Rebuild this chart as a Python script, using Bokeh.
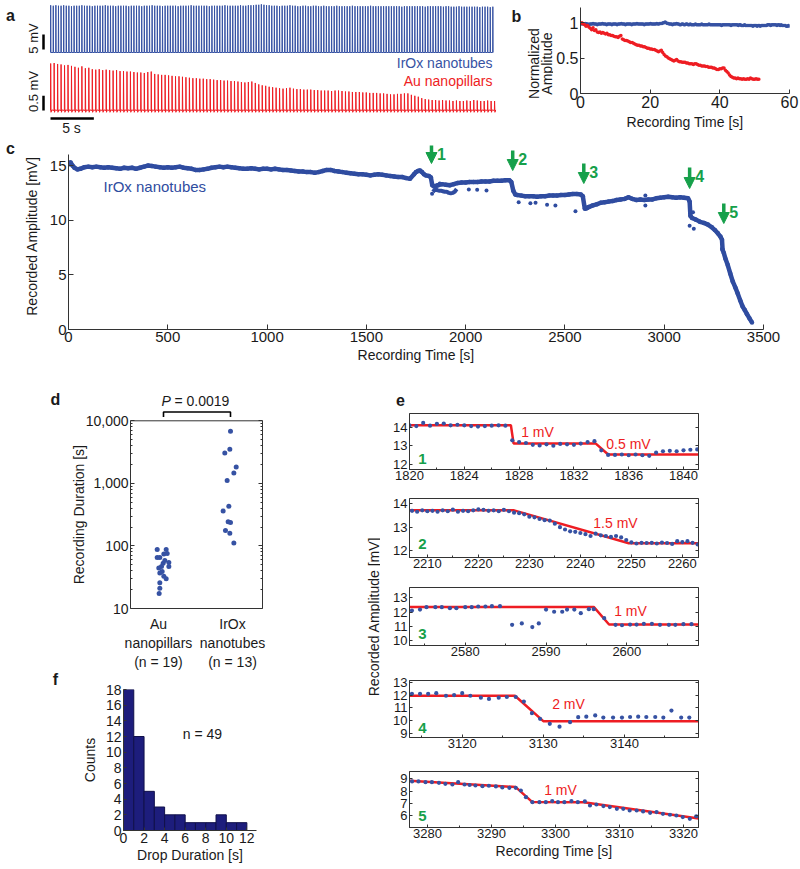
import math
from bokeh.plotting import figure
from bokeh.layouts import row, column
from bokeh.models import (Range1d, LinearAxis, LogAxis, FixedTicker, Label,
                          Arrow, NormalHead, Span)
from bokeh.embed import file_html
from bokeh.resources import INLINE

FONT = "Liberation Sans"
BLUE = "#3652a3"
DBLUE = "#2f4ca0"
RED = "#ee1d23"
GREEN = "#16a04a"
NAVY = "#1d1d7c"
AXC = "#333333"
TXT = "#1a1a1a"

# ======================= DATA =======================
# panel a / b : per-beat normalized spike amplitudes
beat_interval_irox_s = 0.3
beat_interval_au_s = 0.4
irox_norm_amp = [
    0.99, 0.98, 0.99, 0.98, 0.98, 0.99, 0.98, 0.98, 0.97, 0.98,
    0.98, 0.98, 0.99, 0.98, 0.98, 0.98, 0.97, 0.98, 0.98, 0.98,
    0.98, 0.99, 0.98, 0.98, 0.98, 0.97, 0.98, 0.98, 0.98, 0.98,
    0.97, 0.98, 0.98, 0.98, 0.98, 0.97, 0.98, 0.98, 0.98, 0.99,
    0.98, 0.98, 0.98, 0.97, 0.98, 0.98, 0.98, 0.98, 0.98, 0.97,
    0.98, 0.98, 0.98, 0.98, 0.99, 0.98, 0.98, 0.98, 0.98, 0.98,
    0.98, 0.97, 0.98, 0.98, 0.98, 0.98, 0.98, 0.99, 0.98, 0.98,
    0.98, 0.98, 0.98, 0.99, 0.98, 0.98, 0.99, 0.99, 0.99, 1.00,
    1.00, 1.01, 1.00, 0.99, 0.99, 0.98, 0.98, 0.98, 0.97, 0.98,
    0.98, 0.98, 0.99, 0.98, 0.98, 0.97, 0.97, 0.98, 0.98, 0.97,
    0.97, 0.98, 0.98, 0.97, 0.97, 0.98, 0.97, 0.97, 0.97, 0.97,
    0.98, 0.97, 0.97, 0.97, 0.97, 0.97, 0.98, 0.97, 0.97, 0.97,
    0.97, 0.97, 0.97, 0.98, 0.97, 0.97, 0.97, 0.97, 0.97, 0.97,
    0.97, 0.97, 0.97, 0.97, 0.97, 0.96, 0.97, 0.97, 0.97, 0.97,
    0.97, 0.97, 0.97, 0.97, 0.96, 0.97, 0.97, 0.97, 0.97, 0.97,
    0.97, 0.96, 0.97, 0.97, 0.96, 0.96, 0.96, 0.97, 0.96, 0.96,
    0.96, 0.96, 0.96, 0.96, 0.96, 0.95, 0.96, 0.96, 0.96, 0.95,
    0.96, 0.96, 0.95, 0.96, 0.96, 0.96, 0.96, 0.96, 0.96, 0.97,
    0.97, 0.97, 0.96, 0.97, 0.97, 0.97, 0.97, 0.97, 0.96, 0.97,
    0.97, 0.96, 0.97, 0.96, 0.96, 0.96, 0.96, 0.95, 0.95, 0.96,
    0.95]
au_norm_amp = [
    0.99, 1.00, 0.98, 0.97, 0.95, 0.96, 0.94, 0.92, 0.90, 0.93,
    0.89, 0.90, 0.87, 0.86, 0.87, 0.85, 0.86, 0.85, 0.84, 0.85,
    0.83, 0.83, 0.82, 0.82, 0.81, 0.80, 0.80, 0.79, 0.81, 0.82,
    0.77, 0.76, 0.75, 0.75, 0.74, 0.73, 0.72, 0.72, 0.71, 0.70,
    0.69, 0.68, 0.68, 0.67, 0.67, 0.66, 0.66, 0.65, 0.64, 0.64,
    0.63, 0.63, 0.62, 0.62, 0.61, 0.60, 0.59, 0.60, 0.61, 0.58,
    0.55, 0.53, 0.52, 0.50, 0.49, 0.48, 0.47, 0.46, 0.47, 0.48,
    0.46, 0.45, 0.45, 0.44, 0.44, 0.44, 0.43, 0.43, 0.42, 0.42,
    0.42, 0.41, 0.42, 0.42, 0.41, 0.40, 0.40, 0.39, 0.39, 0.39,
    0.38, 0.38, 0.37, 0.37, 0.37, 0.36, 0.36, 0.35, 0.34, 0.34,
    0.35, 0.35, 0.36, 0.36, 0.33, 0.31, 0.29, 0.26, 0.24, 0.23,
    0.22, 0.22, 0.21, 0.22, 0.21, 0.21, 0.20, 0.21, 0.20, 0.20,
    0.21, 0.20, 0.22, 0.21, 0.20, 0.20, 0.21, 0.20, 0.20]
irox_peak_mV = 16.0
au_peak_mV = 1.6
trace_window_s = 51.2
scalebar_irox_mV = 5
scalebar_au_mV = 0.5
scalebar_time_s = 5

# panel c : long-term recorded amplitude (IrOx nanotubes)
c_t = [0, 10, 20, 30, 45, 60, 80, 100, 120, 140, 160, 180, 200, 220, 240, 260, 280, 300,
       320, 340, 360, 380, 400, 420, 440, 460, 480, 500, 520, 540, 560, 580, 600, 620, 640,
       660, 680, 700, 720, 740, 760, 780, 800, 820, 840, 860, 880, 900, 920, 940, 960, 980,
       1000, 1020, 1040, 1060, 1080, 1100, 1120, 1140, 1160, 1180, 1200, 1220, 1240, 1260,
       1280, 1300, 1320, 1340, 1360, 1380, 1400, 1420, 1440, 1460, 1480, 1500, 1520, 1540,
       1560, 1580, 1600, 1620, 1640, 1660, 1680, 1700, 1720, 1740, 1750, 1760, 1770, 1780,
       1790, 1800, 1815, 1825,
       1832, 1840, 1860, 1880, 1900, 1920, 1940, 1960, 1980, 2000, 2020, 2040, 2060, 2080,
       2100, 2120, 2140, 2160, 2180, 2200, 2220, 2230,
       2240, 2250, 2260, 2280, 2300, 2320, 2340, 2360, 2380, 2400, 2420, 2440, 2460, 2480,
       2500, 2520, 2540, 2560, 2580, 2590,
       2600, 2610, 2620, 2640, 2660, 2680, 2700, 2720, 2740, 2760, 2780, 2800, 2820, 2840,
       2860, 2880, 2900, 2920, 2940, 2960, 2980, 3000, 3020, 3040, 3060, 3080, 3100, 3120,
       3128,
       3132, 3140, 3160, 3180, 3200, 3220, 3240, 3255, 3270, 3283, 3291, 3294, 3300, 3308,
       3320, 3333, 3345, 3358, 3370, 3383, 3395, 3405, 3417, 3430, 3442]
c_v = [15.1, 15.3, 15.0, 14.8, 14.65, 14.7, 14.85, 14.9, 14.85, 14.9, 14.85, 14.8, 14.85,
       14.8, 14.75, 14.7, 14.8, 14.75, 14.8, 14.7, 14.8, 14.9, 15.0, 14.95, 14.9, 14.85,
       14.8, 14.85, 14.8, 14.85, 14.9, 14.8, 14.75, 14.7, 14.6, 14.6, 14.65, 14.7, 14.8,
       14.85, 14.9, 14.85, 14.9, 14.85, 14.8, 14.75, 14.7, 14.7, 14.75, 14.7, 14.65, 14.7,
       14.7, 14.65, 14.7, 14.65, 14.6, 14.6, 14.55, 14.5, 14.45, 14.45, 14.4, 14.4, 14.35,
       14.4, 14.5, 14.6, 14.6, 14.5, 14.45, 14.4, 14.35, 14.3, 14.25, 14.2, 14.2, 14.15,
       14.1, 14.15, 14.2, 14.15, 14.1, 14.05, 14.0, 13.95, 13.95, 13.85, 13.8, 14.2, 14.4,
       14.5, 14.55, 14.4, 14.2, 14.1, 14.05, 13.9,
       13.2, 13.1, 13.2, 13.3, 13.25, 13.2, 13.3, 13.4, 13.45, 13.45, 13.5, 13.5, 13.5,
       13.55, 13.55, 13.55, 13.6, 13.6, 13.6, 13.65, 13.65, 13.5,
       12.7, 12.35, 12.3, 12.25, 12.2, 12.2, 12.2, 12.15, 12.2, 12.2, 12.25, 12.25, 12.25,
       12.3, 12.3, 12.35, 12.4, 12.4, 12.35, 12.2,
       11.05, 11.1, 11.2, 11.35, 11.45, 11.6, 11.65, 11.7, 11.75, 11.85, 11.9, 11.95, 12.1,
       11.95, 11.85, 11.9, 11.85, 11.9, 11.9, 12.0, 12.05, 12.1, 12.15, 12.1, 12.05, 12.1,
       12.05, 12.0, 11.7,
       10.4, 10.2, 10.05, 9.85, 9.75, 9.6, 9.35, 9.1, 8.8, 8.5, 8.2, 7.3, 7.0, 6.5, 5.9,
       5.1, 4.4, 3.85, 3.3, 2.65, 2.1, 1.8, 1.4, 1.0, 0.65]
c_low_t = [1835, 1845, 1855, 1865, 1875, 1885, 1895, 1905, 1915, 1925, 1935, 1945, 1955]
c_low_v = [12.6, 12.8, 12.75, 12.7, 12.7, 12.65, 12.6, 12.6, 12.5, 12.45, 12.5, 12.6, 12.85]
c_out_t = [1831, 1850, 1870, 2016, 2058, 2105, 2267, 2326, 2352, 2410, 2452, 2553, 2905,
           2905, 3128, 3145, 3149, 3291]
c_out_v = [12.41, 12.9, 13.35, 12.81, 12.78, 12.72, 11.65, 11.56, 11.6, 11.41, 11.35, 10.82,
           12.26, 11.35, 9.5, 10.73, 9.21, 7.38]
drop_times = [1828, 2237, 2595, 3128, 3300]
drop_names = ["1", "2", "3", "4", "5"]

# panel d : recording duration [s]
d_au_x = [0.906, 1.04, 0.906, 0.945, 1.005, 1.055, 1.08, 0.995, 0.97, 1.08, 0.93, 0.98,
          0.945, 1.005, 1.04, 0.945, 0.945, 0.935, 1.02]
d_au_y = [87.5, 87.5, 65.6, 65.6, 74.2, 76, 54.2, 53, 47, 47, 44.2, 39.2, 37, 32.8, 29.8,
          25.7, 21, 17.4, 58.3]
d_irox_x = [2.0, 1.99, 1.915, 2.085, 2.05, 1.95, 1.975, 1.89, 1.965, 2.0, 1.925, 1.99, 2.05]
d_irox_y = [6800, 3520, 3050, 1820, 1470, 1110, 432, 361, 243, 236, 176, 160, 111]
d_groups = ["Au\nnanopillars\n(n = 19)", "IrOx\nnanotubes\n(n = 13)"]
d_p_text = "= 0.0019"

# panel f : drop duration histogram
f_edges = [0, 1, 2, 3, 4, 5, 6, 7, 8, 9, 10, 11, 12]
f_counts = [18, 12, 5, 3, 2, 2, 1, 1, 1, 2, 1, 1]
f_n_text = "n = 49"

# panel e : zoomed drops
e1_t = [1820.0, 1820.5, 1821.0, 1821.5, 1822.0, 1822.5, 1823.0, 1823.5, 1824.0, 1824.5,
        1825.0, 1825.5, 1826.0, 1826.5, 1827.0, 1827.5, 1828.0, 1828.5, 1829.0, 1829.5,
        1830.0, 1830.5, 1831.0, 1831.5, 1832.0, 1832.5, 1833.0, 1833.5, 1834.0, 1834.5,
        1835.0, 1835.5, 1836.0, 1836.5, 1837.0, 1837.5, 1838.0, 1838.5, 1839.0, 1839.5,
        1840.0, 1840.5, 1841.0]
e1_v = [14.12, 14.08, 14.25, 14.10, 14.20, 14.22, 14.12, 14.15, 14.12, 14.08,
        14.05, 14.08, 14.10, 14.12, 14.10, 13.30, 13.20, 13.15, 13.05, 13.02,
        13.08, 13.00, 13.10, 13.08, 13.05, 13.12, 13.20, 13.25, 12.75, 12.50,
        12.50, 12.52, 12.48, 12.52, 12.48, 12.45, 12.62, 12.70, 12.72, 12.70,
        12.75, 12.78, 12.80]
e1_fit_t = [1820.0, 1827.4, 1827.6, 1833.6, 1834.5, 1841.1]
e1_fit_v = [14.12, 14.12, 13.12, 13.12, 12.52, 12.52]
e1_notes = ["1 mV", "0.5 mV"]

e2_t = [2207, 2208, 2209, 2210, 2211, 2212, 2213, 2214, 2215, 2216, 2217, 2218, 2219, 2220,
        2221, 2222, 2223, 2224, 2225, 2226, 2227, 2228, 2229, 2230, 2231, 2232, 2233, 2234,
        2235, 2236, 2237, 2238, 2239, 2240, 2241, 2242, 2243, 2244, 2245, 2246, 2247, 2248,
        2249, 2250, 2251, 2252, 2253, 2254, 2255, 2256, 2257, 2258, 2259, 2260, 2261, 2262,
        2263]
e2_v = [13.70, 13.66, 13.72, 13.68, 13.70, 13.66, 13.72, 13.68, 13.75, 13.66, 13.70, 13.68,
        13.72, 13.76, 13.74, 13.70, 13.72, 13.68, 13.74, 13.68, 13.62, 13.60, 13.55, 13.45,
        13.42, 13.35, 13.30, 13.28, 13.15, 13.00, 12.90, 12.82, 12.80, 12.75, 12.70, 12.62,
        12.72, 12.65, 12.62, 12.58, 12.62, 12.56, 12.45, 12.35, 12.30, 12.33, 12.32, 12.33,
        12.30, 12.34, 12.32, 12.28, 12.40, 12.36, 12.40, 12.33, 12.26]
e2_fit_t = [2206.5, 2227.0, 2249.5, 2263.2]
e2_fit_v = [13.72, 13.72, 12.31, 12.31]
e2_notes = ["1.5 mV"]

e3_t = [2573.4, 2574.4, 2575.2, 2576.3, 2577.1, 2578.1, 2578.9, 2580.0, 2580.8, 2581.6,
        2582.5, 2583.3, 2584.3, 2585.8, 2587.0, 2588.3, 2589.1, 2590.0, 2591.0, 2592.0,
        2592.6, 2593.5, 2594.3, 2595.3, 2595.9, 2597.2, 2598.6, 2599.4, 2600.4, 2601.2,
        2602.1, 2603.1, 2604.1, 2605.2, 2606.0, 2607.0, 2608.0]
e3_v = [12.10, 12.17, 12.34, 12.34, 12.34, 12.27, 12.27, 12.34, 12.34, 12.39,
        12.39, 12.41, 12.41, 11.10, 11.20, 10.94, 11.20, 12.17, 12.02, 12.02,
        12.17, 12.17, 11.92, 12.20, 12.20, 11.57, 11.10, 11.07, 11.12, 11.12,
        11.17, 11.17, 11.10, 11.10, 11.10, 11.15, 11.15]
e3_fit_t = [2573.1, 2595.9, 2597.8, 2608.9]
e3_fit_v = [12.36, 12.36, 11.12, 11.12]
e3_notes = ["1 mV"]

e4_t = [3113.8, 3114.8, 3115.8, 3116.8, 3118.0, 3119.0, 3120.0, 3121.0, 3122.3, 3123.3,
        3124.5, 3125.5, 3126.6, 3127.6, 3128.6, 3129.6, 3130.8, 3132.0, 3133.3, 3134.3,
        3135.3, 3136.4, 3137.4, 3138.6, 3139.7, 3140.7, 3141.7, 3142.7, 3143.8, 3144.8,
        3145.8, 3147.0, 3148.0]
e4_v = [12.10, 12.10, 12.10, 12.15, 11.95, 12.00, 12.15, 11.95, 11.80, 11.70,
        11.80, 11.85, 11.85, 11.50, 10.60, 10.16, 9.77, 9.55, 9.90, 10.29,
        10.33, 10.42, 10.26, 10.26, 10.26, 10.30, 10.33, 10.30, 10.30, 10.26,
        10.80, 10.26, 10.26]
e4_fit_t = [3113.5, 3126.5, 3130.0, 3149.2]
e4_fit_v = [11.95, 11.95, 9.98, 9.98]
e4_notes = ["2 mV"]

e5_t = [3277.6, 3278.6, 3279.7, 3280.7, 3281.8, 3282.8, 3283.9, 3284.8, 3285.8, 3286.6,
        3287.5, 3288.6, 3289.6, 3290.7, 3291.7, 3292.8, 3293.8, 3294.6, 3295.4, 3296.4,
        3297.5, 3298.5, 3299.5, 3300.4, 3301.4, 3302.5, 3303.5, 3304.6, 3305.4, 3306.4,
        3307.5, 3308.5, 3309.6, 3310.6, 3311.6, 3312.7, 3313.7, 3314.8, 3315.8, 3316.8,
        3317.9, 3318.9, 3319.9, 3321.0, 3322.0]
e5_v = [8.79, 8.79, 8.73, 8.73, 8.68, 8.60, 8.54, 8.73, 8.54, 8.50,
        8.46, 8.40, 8.44, 8.38, 8.30, 8.27, 8.27, 8.05, 7.50, 7.09,
        7.09, 7.09, 7.18, 7.09, 7.09, 7.18, 7.09, 7.15, 6.82, 6.90,
        6.77, 6.69, 6.55, 6.55, 6.41, 6.41, 6.33, 6.22, 6.28, 6.14,
        6.06, 6.00, 5.87, 5.73, 5.93]
e5_fit_t = [3277.2, 3293.8, 3296.4, 3304.4, 3322.4]
e5_fit_v = [8.85, 8.33, 7.10, 7.08, 5.75]
e5_notes = ["1 mV"]


# ======================= LAYOUT HELPERS =======================
class Geo:
    """Maps picture pixels (page coords) to data coords for one figure."""
    def __init__(self, box, frame, xr, yr, ylog=False):
        self.box, self.frame, self.xr, self.yr, self.ylog = box, frame, xr, yr, ylog

    def X(self, ix):
        l, t, r, b = self.frame
        return self.xr[0] + (ix - l) / (r - l) * (self.xr[1] - self.xr[0])

    def Y(self, iy, yr=None):
        l, t, r, b = self.frame
        yr = yr or self.yr
        if self.ylog:
            a0, a1 = math.log10(yr[0]), math.log10(yr[1])
            return 10 ** (a0 + (b - iy) / (b - t) * (a1 - a0))
        return yr[0] + (b - iy) / (b - t) * (yr[1] - yr[0])

    def fig(self, **kw):
        l, t, r, b = self.box
        fl, ft, fr, fb = self.frame
        p = figure(width=r - l, height=b - t,
                   x_range=Range1d(*self.xr), y_range=Range1d(*self.yr),
                   y_axis_type="log" if self.ylog else "linear",
                   min_border_left=fl - l, min_border_right=r - fr,
                   min_border_top=ft - t, min_border_bottom=b - fb,
                   output_backend="svg", toolbar_location=None, **kw)
        p.grid.visible = False
        p.outline_line_color = None
        p.background_fill_color = "white"
        p.border_fill_color = "white"
        return p


def style_axis(ax, tick_px, label_px=14, label_standoff=2, tick_in=4):
    ax.axis_line_color = AXC
    ax.major_tick_line_color = AXC
    ax.minor_tick_line_color = AXC
    ax.major_tick_in = tick_in
    ax.major_tick_out = 0
    ax.minor_tick_in = 2
    ax.minor_tick_out = 0
    ax.major_label_text_font = FONT
    ax.major_label_text_font_size = f"{tick_px}px"
    ax.major_label_text_color = TXT
    ax.major_label_standoff = 2
    ax.axis_label_text_font = FONT
    ax.axis_label_text_font_size = f"{label_px}px"
    ax.axis_label_text_font_style = "normal"
    ax.axis_label_text_color = TXT
    ax.axis_label_standoff = label_standoff


def lab(p, g, ix, iy, text, size, color=TXT, align="center", baseline="middle",
        style="normal", angle=0.0, side="center"):
    """Text placed at a picture position; side panels are used for text outside the frame."""
    lbl = Label(x=g.X(ix), y=g.Y(iy), text=text, text_font=FONT,
                text_font_size=f"{size}px", text_color=color, text_align=align,
                text_baseline=baseline, text_font_style=style, angle=angle)
    p.add_layout(lbl, side)


def hidden_labels(ax):
    ax.major_label_text_alpha = 0
    ax.major_label_standoff = 0


# ======================= PANEL a (also holds b's outer texts) =======================
ga = Geo((0, 0, 553, 140), (0, 0, 553, 140),
         ((0 - 50) / 8.67, (553 - 50) / 8.67), ((52 - 140) / 2.982, 52 / 2.982))
au_yr = ((110 - 140) / 29.67, 110 / 29.67)
pa = ga.fig(x_axis_location=None, y_axis_location=None, min_border=0)
pa.extra_y_ranges = {"au": Range1d(*au_yr)}

bx, by = [], []
for i, a in enumerate(irox_norm_amp):
    t = i * beat_interval_irox_s
    if t > trace_window_s:
        break
    bx += [t, t + 0.02, t + 0.05]
    by += [0, a * irox_peak_mV, 0]
pa.line(bx, by, line_color=BLUE, line_width=1)

rx, ry = [], []
for i, a in enumerate(au_norm_amp):
    t = i * beat_interval_au_s
    if t > trace_window_s:
        break
    rx += [t, t + 0.02, t + 0.06, t + 0.15]
    ry += [0, a * au_peak_mV, -0.06, 0.02]
pa.line(rx, ry, line_color=RED, line_width=1, y_range_name="au")

bar_x = ga.X(43)
yb0 = ga.Y(49)
pa.line([bar_x, bar_x], [yb0, yb0 + scalebar_irox_mV], line_color="black", line_width=2.5)
yr0 = ga.Y(110, au_yr)
pa.line([bar_x, bar_x], [yr0, yr0 + scalebar_au_mV], line_color="black", line_width=2.5,
        y_range_name="au")
yt0 = ga.Y(118, au_yr)
pa.line([0, scalebar_time_s], [yt0, yt0], line_color="black", line_width=2.5, y_range_name="au")
lab(pa, ga, 33, 38, f"{scalebar_irox_mV} mV", 13, angle=math.pi / 2)
lab(pa, ga, 33, 91, f"{scalebar_au_mV} mV", 13, angle=math.pi / 2)
lab(pa, ga, 71, 127, f"{scalebar_time_s} s", 14)
lab(pa, ga, 492, 62, "IrOx nanotubes", 14, color=BLUE, align="right")
lab(pa, ga, 492, 80, "Au nanopillars", 14, color=RED, align="right")
lab(pa, ga, 10, 15, "a", 16, style="bold")
lab(pa, ga, 516, 16, "b", 16, style="bold")
lab(pa, ga, 533, 63, "Normalized", 14, angle=math.pi / 2)
lab(pa, ga, 546, 63, "Amplitude", 14, angle=math.pi / 2)

# ======================= PANEL b =======================
gb = Geo((553, 0, 800, 140), (578, 7, 789, 93), (0, 60), (0, 86 / 70.8))
pb = gb.fig()
tb = [i * beat_interval_irox_s for i in range(len(irox_norm_amp))]
ta = [i * beat_interval_au_s for i in range(len(au_norm_amp))]
pb.scatter(tb, irox_norm_amp, size=3.5, color=BLUE, line_color=None)
pb.scatter(ta, au_norm_amp, size=3.5, color=RED, line_color=None)
pb.xaxis.ticker = FixedTicker(ticks=[0, 20, 40, 60])
pb.yaxis.ticker = FixedTicker(ticks=[0, 0.5, 1])
pb.yaxis.major_label_overrides = {0: "0", 0.5: "0.5", 1: "1"}
pb.xaxis.axis_label = "Recording Time [s]"
style_axis(pb.xaxis[0], 16, 14, 3)
style_axis(pb.yaxis[0], 16, 14)

# ======================= PANEL c =======================
gc = Geo((0, 140, 800, 368), (68, 142, 763, 329), (0, 3500), (0, 187 / 10.93))
pc = gc.fig()
pc.line(c_t, c_v, line_color=DBLUE, line_width=4.5)
pc.scatter(c_t, c_v, size=4.5, color=DBLUE, line_color=None)
pc.line(c_low_t, c_low_v, line_color=DBLUE, line_width=4)
pc.scatter(c_out_t, c_out_v, size=4, color=DBLUE, line_color=None)
pc.xaxis.ticker = FixedTicker(ticks=[0, 500, 1000, 1500, 2000, 2500, 3000, 3500])
pc.yaxis.ticker = FixedTicker(ticks=[0, 5, 10, 15])
pc.yaxis.bounds = (0, 16)
pc.xaxis.axis_label = "Recording Time [s]"
pc.yaxis.axis_label = "Recorded Amplitude [mV]"
style_axis(pc.xaxis[0], 15, 14, 2, 5)
style_axis(pc.yaxis[0], 15, 14, 7, 5)
arrow_top = [145, 150, 163, 167, 203]
arrow_tip = [163, 170, 183, 188, 223]
for k, tdrop in enumerate(drop_times):
    pc.add_layout(Arrow(x_start=tdrop, y_start=gc.Y(arrow_top[k]), x_end=tdrop,
                        y_end=gc.Y(arrow_tip[k]), line_color=GREEN, line_width=3.5,
                        end=NormalHead(size=11, fill_color=GREEN, line_color=GREEN)))
    ix = 68 + tdrop * 695 / 3500
    lab(pc, gc, ix + 10, arrow_top[k] + 8, drop_names[k], 16, color=GREEN, style="bold")
lab(pc, gc, 103, 186, "IrOx nanotubes", 15, color=DBLUE, align="left")
lab(pc, gc, 10, 148, "c", 16, style="bold", side="right")

# ======================= PANEL d =======================
gd = Geo((0, 368, 366, 672), (130, 390, 262, 613), (0.5075, 2.4776),
         (10, 10 ** (4 + 31 / 64)), ylog=True)
pd = gd.fig()
pd.scatter(d_au_x, d_au_y, size=5, color=BLUE, line_color=None)
pd.scatter(d_irox_x, d_irox_y, size=5, color=BLUE, line_color=None)
minor = [m * 10 ** e for e in (1, 2, 3) for m in range(2, 10)]
pd.yaxis.ticker = FixedTicker(ticks=[10, 100, 1000, 10000], minor_ticks=minor)
pd.yaxis.major_label_overrides = {10: "10", 100: "100", 1000: "1,000", 10000: "10,000"}
pd.yaxis.bounds = (10, 10000)
style_axis(pd.yaxis[0], 14)
# group captions sit under each column of points
cap_x = [round(gd.X(158), 3), round(gd.X(232), 3)]
pd.xaxis.ticker = FixedTicker(ticks=cap_x)
pd.xaxis.major_label_overrides = {cap_x[0]: d_groups[0], cap_x[1]: d_groups[1]}
style_axis(pd.xaxis[0], 14, tick_in=0)
pd.xaxis[0].major_label_standoff = 7
rax = LogAxis(ticker=FixedTicker(ticks=[10, 100, 1000, 10000], minor_ticks=minor),
              bounds=(10, 10000))
style_axis(rax, 14)
hidden_labels(rax)
pd.add_layout(rax, "right")
pd.add_layout(Span(location=10000, dimension="width", line_color=AXC, line_width=1))
# significance bracket
yb_top = gd.Y(412)
yb_bot = gd.Y(417)
pd.line([1, 1, 2, 2], [yb_bot, yb_top, yb_top, yb_bot], line_color="black", line_width=1.6)
lab(pd, gd, 161, 401, "P", 14, align="left", style="italic")
lab(pd, gd, 174, 401, d_p_text, 14, align="left")
lab(pd, gd, 78, 517, "Recording Duration [s]", 14, angle=math.pi / 2, side="left")
lab(pd, gd, 55, 399, "d", 16, style="bold", side="right")

# ======================= PANEL f =======================
gf = Geo((0, 672, 366, 868), (123, 689, 256, 830), (0, 133 / 10.28), (0, 18))
pf = gf.fig()
pf.quad(left=f_edges[:-1], right=f_edges[1:], bottom=0, top=f_counts,
        fill_color=NAVY, line_color="#10104a", line_width=1)
pf.xaxis.ticker = FixedTicker(ticks=[0, 2, 4, 6, 8, 10, 12])
pf.yaxis.ticker = FixedTicker(ticks=[0, 2, 4, 6, 8, 10, 12, 14, 16, 18])
pf.xaxis.axis_label = "Drop Duration [s]"
pf.yaxis.axis_label = "Counts"
style_axis(pf.xaxis[0], 14, 14, 1, 3)
style_axis(pf.yaxis[0], 14, 14, 5, 3)
lab(pf, gf, 202, 733, f_n_text, 14)
lab(pf, gf, 55, 679, "f", 16, style="bold", side="right")

# ======================= label strip between d/f and e =======================
gl = Geo((366, 368, 380, 868), (366, 368, 380, 868), (0, 1), (0, 1))
pl = gl.fig(x_axis_location=None, y_axis_location=None, min_border=0)
lab(pl, gl, 373, 616, "Recorded Amplitude [mV]", 14, angle=math.pi / 2)


# ======================= PANEL e =======================
def make_e(g, xt, xminor, yt, t, v, ft, fv, notes, note_pos, num, num_pos, xlabel=None):
    p = g.fig()
    p.outline_line_color = AXC
    p.line(ft, fv, line_color=RED, line_width=2.5)
    p.scatter(t, v, size=4.2, color=BLUE, line_color=None)
    p.xaxis.ticker = FixedTicker(ticks=xt, minor_ticks=xminor)
    p.yaxis.ticker = FixedTicker(ticks=yt)
    if xlabel:
        p.xaxis.axis_label = xlabel
    style_axis(p.xaxis[0], 13, 14, 2, 3)
    p.xaxis[0].major_label_standoff = 1
    style_axis(p.yaxis[0], 13, 14, 2, 3)
    right = LinearAxis(ticker=FixedTicker(ticks=yt))
    style_axis(right, 13, 14, 0, 3)
    hidden_labels(right)
    p.add_layout(right, "right")
    for txt, (ix, iy) in zip(notes, note_pos):
        lab(p, g, ix, iy, txt, 14, color=RED)
    lab(p, g, num_pos[0], num_pos[1], num, 15, color=GREEN, style="bold")
    return p


g1 = Geo((380, 368, 800, 486), (409, 413, 698, 469), (1820, 1820 + 289 / 13.7), (11.699, 14.767))
e1 = make_e(g1, [1820, 1824, 1828, 1832, 1836, 1840], [1822, 1826, 1830, 1834, 1838],
            [12, 13, 14], e1_t, e1_v, e1_fit_t, e1_fit_v, e1_notes, [(537, 431), (628, 443)],
            drop_names[0], (422, 458))
lab(e1, g1, 400, 399, "e", 16, style="bold", side="right")

g2 = Geo((380, 486, 800, 575), (409, 498, 698, 557), (2206.5, 2206.5 + 289 / 5.1), (11.70, 14.227))
e2 = make_e(g2, [2210, 2220, 2230, 2240, 2250, 2260], [2215, 2225, 2235, 2245, 2255],
            [12, 13, 14], e2_t, e2_v, e2_fit_t, e2_fit_v, e2_notes, [(615, 522)],
            drop_names[1], (422, 543))

g3 = Geo((380, 575, 800, 662), (409, 587, 698, 645), (2573.1, 2573.1 + 289 / 8.08), (9.648, 13.724))
e3 = make_e(g3, [2580, 2590, 2600], [2575, 2585, 2595, 2605],
            [10, 11, 12, 13], e3_t, e3_v, e3_fit_t, e3_fit_v, e3_notes, [(630, 610)],
            drop_names[2], (422, 633))

g4 = Geo((380, 662, 800, 755), (409, 680, 698, 737), (3113.5, 3113.5 + 289 / 8.11), (8.713, 13.13))
e4 = make_e(g4, [3120, 3130, 3140], [3115, 3125, 3135, 3145],
            [9, 10, 11, 12, 13], e4_t, e4_v, e4_fit_t, e4_fit_v, e4_notes, [(568, 703)],
            drop_names[3], (422, 727))

g5 = Geo((380, 755, 800, 868), (409, 771, 698, 827), (3277.2, 3277.2 + 289 / 6.4), (5.016, 9.607))
e5 = make_e(g5, [3280, 3290, 3300, 3310, 3320], [3285, 3295, 3305, 3315],
            [6, 7, 8, 9], e5_t, e5_v, e5_fit_t, e5_fit_v, e5_notes, [(560, 789)],
            drop_names[4], (422, 815), xlabel="Recording Time [s]")


def W(p):
    # each plot in its own box so that neighbouring plot frames are not aligned
    return column(p)


layout = column(
    row(W(pa), W(pb)),
    W(pc),
    row(column(W(pd), W(pf)), W(pl), column(W(e1), W(e2), W(e3), W(e4), W(e5))),
)

open("out.html", "w").write(file_html(layout, INLINE))
